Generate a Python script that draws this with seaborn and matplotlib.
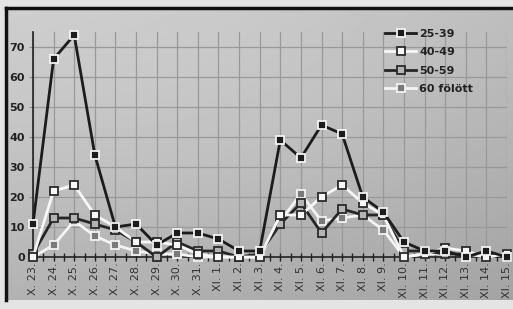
import numpy as np
import pandas as pd
import matplotlib.pyplot as plt
import seaborn as sns
from matplotlib.lines import Line2D
from matplotlib.ticker import MultipleLocator

# dates on the x axis
dates = ['X. 23.', 'X. 24.', 'X. 25.', 'X. 26.', 'X. 27.', 'X. 28.', 'X. 29.', 'X. 30.',
         'X. 31.', 'XI. 1.', 'XI. 2.', 'XI. 3.', 'XI. 4.', 'XI. 5.', 'XI. 6.', 'XI. 7.',
         'XI. 8.', 'XI. 9.', 'XI. 10.', 'XI. 11.', 'XI. 12.', 'XI. 13.', 'XI. 14.', 'XI. 15.']

# values per age group
age_25_39 = [11, 66, 74, 34, 10, 11, 4, 8, 8, 6, 2, 2, 39, 33, 44, 41, 20, 15, 5, 2, 2, 0, 2, 0]
age_40_49 = [0, 22, 24, 14, 10, 5, 5, 4, 1, 0, 0, 0, 14, 14, 20, 24, 18, 14, 0, 1, 3, 2, 0, 1]
age_50_59 = [1, 13, 13, 11, 9, 5, 0, 5, 2, 2, 0, 1, 11, 18, 8, 16, 14, 14, 2, 2, 1, 1, 1, 0]
age_60_up = [0, 4, 12, 7, 4, 2, 1, 1, 0, 0, 0, 0, 12, 21, 12, 13, 14, 9, 0, 1, 1, 1, 0, 1]

labels = ['25-39', '40-49', '50-59', '60 fölött']

df = pd.DataFrame({
    'pos': list(range(len(dates))) * 4,
    'value': age_25_39 + age_40_49 + age_50_59 + age_60_up,
    'group': [g for g in labels for _ in dates],
})

# line colour, marker face, marker edge
styles = {
    '25-39': ('#1c1c1c', '#1c1c1c', '#f2f2f2'),
    '40-49': ('#f7f7f7', '#f7f7f7', '#2a2a2a'),
    '50-59': ('#262626', '#b4b4b4', '#2a2a2a'),
    '60 fölött': ('#f4f4f4', '#7a7a7a', '#f2f2f2'),
}

W, H = 513, 309
fig = plt.figure(figsize=(W / 100, H / 100), dpi=100)
fig.patch.set_facecolor('#e4e4e4')

# gray gradient panel behind the chart
bg = fig.add_axes([0, 0, 1, 1])
bg.set_xlim(0, W)
bg.set_ylim(H, 0)
bg.axis('off')
yy, xx = np.mgrid[0:1:200j, 0:1:300j]
shade = 0.80 - 0.10 * yy - 0.06 * xx + 0.03 * np.exp(-((xx - 0.45) ** 2 + (yy - 0.35) ** 2) * 4)
bg.imshow(shade, cmap='gray', vmin=0, vmax=1, extent=(6, W, 300, 8), aspect='auto')
bg.plot([6, 6], [8, 300], color='#111111', lw=2.5)
bg.plot([6, W], [8, 8], color='#111111', lw=2.5)

ax = fig.add_axes([33 / W, (H - 257) / H, (507 - 33) / W, (257 - 32) / H])
ax.patch.set_alpha(0)

order = ['60 fölött', '50-59', '40-49', '25-39']
for g in order:
    line_c, face_c, edge_c = styles[g]
    sns.lineplot(data=df[df['group'] == g], x='pos', y='value', ax=ax,
                 color=line_c, lw=2, marker='s', markersize=6,
                 markerfacecolor=face_c, markeredgecolor=edge_c, markeredgewidth=1.3,
                 clip_on=False, zorder=5)

ax.set_xlim(0, len(dates) - 1)
ax.set_ylim(0, 75)
ax.set_xlabel('')
ax.set_ylabel('')

ax.set_xticks(range(len(dates)))
ax.set_xticklabels(dates, rotation=90, fontsize=8, color='#333333')
ax.xaxis.set_minor_locator(MultipleLocator(0.5))
ax.tick_params(axis='x', which='both', direction='inout', length=6, width=1, color='#222222', pad=1)
ax.set_yticks(range(0, 80, 10))
ax.set_yticklabels([str(v) for v in range(0, 80, 10)], fontsize=8, fontweight='bold', color='#222222')
ax.tick_params(axis='y', length=3, color='#8a8a8a', pad=3)

ax.grid(True, which='major', color='#999999', lw=0.9)
ax.set_axisbelow(True)
for side in ['top', 'right']:
    ax.spines[side].set_visible(False)
ax.spines['left'].set_color('#222222')
ax.spines['bottom'].set_color('#222222')
ax.spines['left'].set_linewidth(1.2)
ax.spines['bottom'].set_linewidth(1.2)

handles = []
for g in labels:
    line_c, face_c, edge_c = styles[g]
    handles.append(Line2D([], [], color=line_c, lw=2, marker='s', markersize=6,
                          markerfacecolor=face_c, markeredgecolor=edge_c, markeredgewidth=1.3))
leg = fig.legend(handles, labels, loc='upper left', bbox_to_anchor=(375 / W, (H - 19) / H),
                 frameon=False, handlelength=2.8, handletextpad=0.3, labelspacing=0.75,
                 prop={'size': 8, 'weight': 'bold'})
for t in leg.get_texts():
    t.set_color('#222222')

fig.savefig('out.png', dpi=100)
